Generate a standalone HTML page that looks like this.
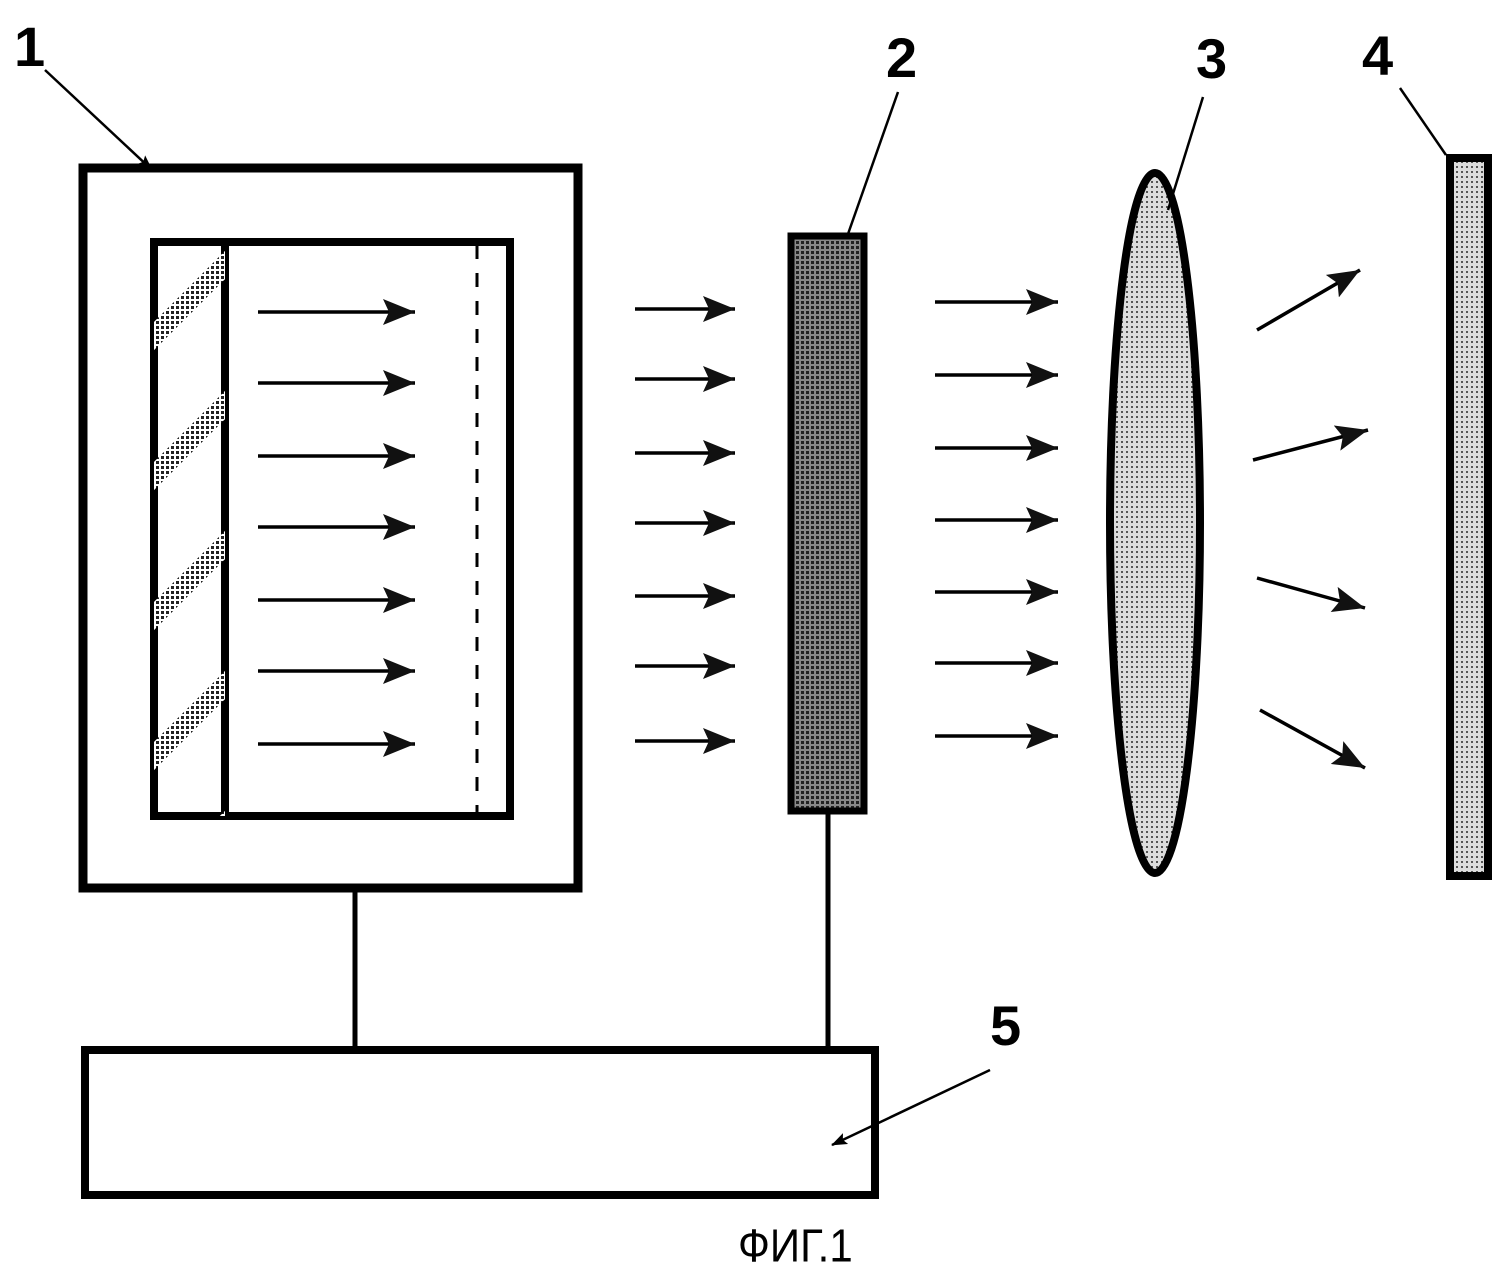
<!DOCTYPE html>
<html><head><meta charset="utf-8"><style>html,body{margin:0;padding:0;background:#fff}svg{display:block}</style></head>
<body>
<svg width="1512" height="1276" viewBox="0 0 1512 1276" xmlns="http://www.w3.org/2000/svg">
<defs>
<marker id="ah" markerWidth="16" markerHeight="12" refX="15" refY="6" orient="auto" markerUnits="userSpaceOnUse" viewBox="0 0 16 12">
<path d="M0,0 L16,6 L0,12 L3,6 Z" fill="#000"/>
</marker>
<marker id="a" viewBox="0 0 32 26" refX="32" refY="13" markerWidth="32" markerHeight="26" orient="auto" markerUnits="userSpaceOnUse">
<path d="M0,0 L32,13 L0,26 L6,13 Z" fill="#111"/>
</marker>
<pattern id="dots" width="5" height="5" patternUnits="userSpaceOnUse">
<rect width="5" height="5" fill="#fff"/><rect x="1" y="1" width="3" height="3" fill="#222"/>
</pattern>
<pattern id="dots2" width="5" height="5" patternUnits="userSpaceOnUse">
<rect width="5" height="5" fill="#ddd"/><rect x="1" y="1" width="2" height="2" fill="#555"/>
</pattern>
<pattern id="dots3" width="5" height="5" patternUnits="userSpaceOnUse">
<rect width="5" height="5" fill="#888"/><rect x="1" y="1" width="3" height="3" fill="#222"/>
</pattern>
<clipPath id="lc"><rect x="154" y="242" width="71" height="574"/></clipPath>
</defs>

<rect x="83" y="168" width="495" height="720" fill="none" stroke="#000" stroke-width="9"/>
<rect x="154" y="242" width="356" height="574" fill="none" stroke="#000" stroke-width="8"/>
<line x1="225" y1="242" x2="225" y2="816" stroke="#000" stroke-width="8"/>
<line x1="477" y1="245" x2="477" y2="812" stroke="#000" stroke-width="3" stroke-dasharray="14,14"/>
<g clip-path="url(#lc)" stroke="url(#dots)" stroke-width="20">
<line x1="140" y1="350" x2="240" y2="250"/>
<line x1="140" y1="490" x2="240" y2="390"/>
<line x1="140" y1="630" x2="240" y2="530"/>
<line x1="140" y1="770" x2="240" y2="670"/>
<line x1="140" y1="910" x2="240" y2="810"/>
</g>
<g stroke="#000" stroke-width="3.5" marker-end="url(#a)">
<line x1="258" y1="312" x2="415" y2="312"/>
<line x1="258" y1="383" x2="415" y2="383"/>
<line x1="258" y1="456" x2="415" y2="456"/>
<line x1="258" y1="527" x2="415" y2="527"/>
<line x1="258" y1="600" x2="415" y2="600"/>
<line x1="258" y1="671" x2="415" y2="671"/>
<line x1="258" y1="744" x2="415" y2="744"/>
<line x1="635" y1="309" x2="735" y2="309"/>
<line x1="635" y1="379" x2="735" y2="379"/>
<line x1="635" y1="453" x2="735" y2="453"/>
<line x1="635" y1="523" x2="735" y2="523"/>
<line x1="635" y1="596" x2="735" y2="596"/>
<line x1="635" y1="666" x2="735" y2="666"/>
<line x1="635" y1="741" x2="735" y2="741"/>
<line x1="935" y1="302" x2="1058" y2="302"/>
<line x1="935" y1="375" x2="1058" y2="375"/>
<line x1="935" y1="448" x2="1058" y2="448"/>
<line x1="935" y1="520" x2="1058" y2="520"/>
<line x1="935" y1="592" x2="1058" y2="592"/>
<line x1="935" y1="663" x2="1058" y2="663"/>
<line x1="935" y1="736" x2="1058" y2="736"/>
<line x1="1257" y1="330" x2="1360" y2="270"/>
<line x1="1253" y1="460" x2="1368" y2="430"/>
<line x1="1257" y1="578" x2="1365" y2="608"/>
<line x1="1260" y1="710" x2="1365" y2="768"/>
</g>

<rect x="791" y="236" width="73" height="575" fill="url(#dots3)" stroke="#000" stroke-width="7"/>
<line x1="828" y1="812" x2="828" y2="1048" stroke="#000" stroke-width="5"/>
<ellipse cx="1155" cy="523" rx="45" ry="350" fill="url(#dots2)" stroke="#000" stroke-width="8"/>
<rect x="1450" y="158" width="38" height="718" fill="url(#dots2)" stroke="#000" stroke-width="8"/>

<line x1="355" y1="890" x2="355" y2="1050" stroke="#000" stroke-width="5"/>
<rect x="85" y="1050" width="790" height="145" fill="none" stroke="#000" stroke-width="8"/>

<g stroke="#000" stroke-width="2.5" fill="none">
<line x1="45" y1="70" x2="152" y2="170" marker-end="url(#ah)"/>
<line x1="898" y1="92" x2="848" y2="234"/>
<line x1="1203" y1="97" x2="1168" y2="210"/>
<line x1="1400" y1="88" x2="1446" y2="155"/>
<line x1="990" y1="1070" x2="832" y2="1145" marker-end="url(#ah)"/>
</g>
<g font-family="Liberation Sans, sans-serif" font-weight="bold" font-size="56" fill="#000">
<text x="14" y="66">1</text>
<text x="886" y="77">2</text>
<text x="1196" y="78">3</text>
<text x="1362" y="75">4</text>
<text x="990" y="1045">5</text>
</g>
<text x="738" y="1262" font-family="Liberation Sans, sans-serif" font-size="42" fill="#000" transform="translate(738 0) scale(1 1.1) translate(-738 -115)">ФИГ.1</text>
</svg>
</body></html>
